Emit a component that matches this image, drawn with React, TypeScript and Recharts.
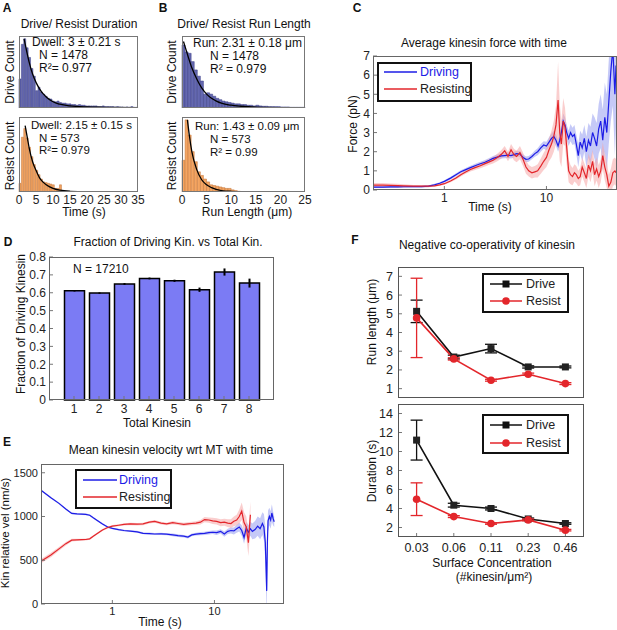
import React from 'react';
import { ComposedChart, Bar, Line, Area, XAxis, YAxis, ErrorBar } from 'recharts';

const FONT = '"Liberation Sans", Arial, Helvetica, sans-serif';
const PAD = 12;

// ---------- A: duration histograms (bar height in % of panel) ----------
const durBin = 0.7; // s
const durDriveCounts = [42, 92, 100, 87, 73, 57, 46, 25, 30, 23, 20, 17, 14, 13, 10, 9, 10, 8, 7, 7, 6, 6, 5, 5, 4, 5, 4, 4, 3, 3, 3, 3, 3, 2, 2, 3, 2, 2, 2, 2, 1.5, 2, 1.5, 1.5, 1, 1.5, 1, 2, 1, 1];
const durResistCounts = [12, 76, 88, 75, 62, 49, 38, 30, 24, 18, 14, 13, 12, 11, 10, 5, 5, 10, 0, 0.5, 0, 0, 0.5, 0, 0, 0, 0.5, 0, 0, 0, 0, 0.5, 0, 0, 0, 0, 0, 0, 0.5, 0, 0, 0, 0, 0, 0, 0, 0, 0, 0, 0];
const durDriveFit = [[1.5, 100], [2, 88], [3, 66], [4, 49], [5, 37], [6, 28], [7, 21], [8, 16], [10, 9], [12, 5.5], [15, 3], [20, 1.5], [25, 1], [35, 0.5]];
const durResistFit = [[1.8, 92], [2.5, 74], [3, 61], [4, 42], [5, 30], [6, 20], [7, 14], [8, 10], [10, 5], [12, 2.5], [15, 1], [20, 0.3], [35, 0]];
const durTicks = [0, 5, 10, 15, 20, 25, 30, 35];

// ---------- B: run length histograms ----------
const runBin = 0.625; // um
const runDriveCounts = [91, 81, 79, 67, 55, 46, 39, 20, 22, 20, 17, 14, 12, 10, 9, 8, 7, 6, 6, 5, 5, 4, 4, 3, 4, 3, 2.5, 2.5, 2, 2, 2, 2, 1.5, 1.5, 1.5, 1, 1, 1, 1, 1];
const runResistCounts = [44, 100, 79, 56, 42, 28, 23, 18, 14, 10, 9, 8, 7, 6, 5, 5, 3, 2, 1, 0.5, 0.5, 0, 0.5, 0, 0.5, 0, 0, 0.5, 0, 0, 0, 0, 0, 0, 0, 0, 0, 0, 0, 0];
const runDriveFit = [[0.3, 96], [1, 80], [2, 58], [3, 42], [4, 29], [5, 20], [6, 14], [7, 10], [8, 7], [10, 4], [12, 2.5], [15, 1.2], [20, 0.5], [25, 0.3]];
const runResistFit = [[1.1, 100], [1.5, 78], [2, 56], [3, 31], [4, 17], [5, 10], [6, 6], [8, 2], [10, 1], [15, 0.3], [25, 0]];
const runTicks = [0, 5, 10, 15, 20, 25];

// ---------- C: force vs time ----------
const cTime = [0.2, 0.25, 0.3, 0.35, 0.4, 0.5, 0.6, 0.7, 0.8, 0.9, 1.0, 1.15, 1.3, 1.45, 1.6, 1.8, 2.0, 2.25, 2.5, 2.75, 3.0, 3.3, 3.6, 3.9, 4.2, 4.5, 4.8, 5.1, 5.5, 5.9, 6.3, 6.7, 7.2, 7.7, 8.2, 8.8, 9.4, 10, 10.6, 11.2, 11.8, 12.4, 13.0, 13.5, 14.0, 14.6, 15.2, 15.8, 16.5, 17.2, 18, 18.8, 19.6, 20.5, 21.4, 22.4, 23.5, 24.6, 25.8, 27, 28.3, 29.6, 31, 32.5, 34, 35.6, 37.3, 39, 40.8, 42.7, 44.7, 46.8, 48];
const cDriving = [0.15, 0.15, 0.16, 0.16, 0.17, 0.18, 0.18, 0.2, 0.27, 0.35, 0.45, 0.62, 0.8, 0.95, 1.05, 1.17, 1.27, 1.37, 1.45, 1.55, 1.65, 1.72, 1.78, 1.8, 1.82, 1.8, 1.85, 1.9, 1.88, 1.7, 1.6, 1.62, 1.75, 1.9, 2.0, 2.2, 2.35, 2.3, 2.5, 2.7, 2.8, 2.6, 2.3, 2.6, 3.0, 3.6, 3.4, 3.0, 2.7, 3.0, 2.8, 2.9, 2.4, 1.8, 2.5, 2.2, 2.7, 2.0, 2.6, 2.3, 3.0, 2.7, 2.3, 3.2, 3.6, 2.6, 3.8, 3.0, 4.6, 6.2, 7.4, 5.0, 6.5];
const cDrivingErr = [0.05, 0.05, 0.05, 0.05, 0.05, 0.05, 0.05, 0.05, 0.05, 0.06, 0.06, 0.07, 0.08, 0.08, 0.09, 0.1, 0.1, 0.1, 0.12, 0.12, 0.13, 0.13, 0.14, 0.14, 0.15, 0.15, 0.15, 0.15, 0.15, 0.15, 0.15, 0.15, 0.15, 0.16, 0.18, 0.2, 0.2, 0.22, 0.25, 0.25, 0.3, 0.3, 0.3, 0.35, 0.35, 0.4, 0.4, 0.4, 0.4, 0.45, 0.45, 0.5, 0.5, 0.6, 0.6, 0.7, 0.7, 0.8, 0.9, 1.0, 1.0, 1.1, 1.2, 1.3, 1.4, 1.6, 1.8, 2.0, 2.2, 2.6, 3.0, 3.2, 3.2];
const cResisting = [0.25, 0.25, 0.24, 0.23, 0.22, 0.2, 0.2, 0.2, 0.22, 0.27, 0.33, 0.47, 0.63, 0.8, 0.93, 1.07, 1.17, 1.27, 1.38, 1.47, 1.55, 1.7, 1.85, 2.05, 1.75, 2.1, 1.85, 1.75, 1.95, 1.6, 1.2, 1.0, 0.9, 0.95, 1.0, 1.25, 1.5, 1.7, 2.1, 2.4, 2.8, 3.4, 4.7, 3.0, 2.4, 3.6, 3.3, 2.2, 1.0, 0.8, 0.7, 0.9, 0.8, 0.6, 0.7, 1.2, 0.9, 0.6, 1.3, 1.0, 1.5, 0.8, 1.1, 0.7, 1.0, 1.8, 1.2, 0.8, 0.2, 0.4, 0.9, 1.0, 0.9];
const cResistingErr = [0.12, 0.12, 0.1, 0.1, 0.08, 0.06, 0.05, 0.05, 0.05, 0.05, 0.06, 0.07, 0.08, 0.09, 0.1, 0.1, 0.12, 0.13, 0.15, 0.15, 0.17, 0.2, 0.22, 0.25, 0.25, 0.3, 0.3, 0.3, 0.35, 0.35, 0.35, 0.3, 0.3, 0.3, 0.35, 0.4, 0.45, 0.5, 0.6, 0.7, 0.8, 1.0, 2.0, 1.5, 1.2, 1.2, 1.0, 0.9, 0.6, 0.5, 0.45, 0.45, 0.45, 0.4, 0.45, 0.5, 0.5, 0.5, 0.6, 0.6, 0.6, 0.6, 0.6, 0.6, 0.6, 0.7, 0.7, 0.7, 0.6, 0.7, 0.7, 0.7, 0.7];

// ---------- D: fraction of driving kinesin ----------
const dTotal = [1, 2, 3, 4, 5, 6, 7, 8];
const dFraction = [0.611, 0.598, 0.649, 0.68, 0.667, 0.617, 0.716, 0.654];
const dFractionErr = [0.004, 0.004, 0.005, 0.005, 0.006, 0.012, 0.02, 0.025];

// ---------- E: velocity vs time ----------
const eTime = [0.2, 0.25, 0.3, 0.35, 0.4, 0.45, 0.5, 0.55, 0.6, 0.65, 0.7, 0.8, 0.9, 1.0, 1.15, 1.3, 1.5, 1.75, 2.0, 2.3, 2.6, 3.0, 3.4, 3.9, 4.4, 5.0, 5.5, 6.0, 6.6, 7.3, 8.0, 8.8, 9.6, 10.5, 11.5, 12.5, 13.5, 14.5, 15.5, 16.5, 17.5, 18.5, 19.5, 20.5, 21.5, 22.5, 23.5, 25, 26.5, 28, 29.5, 30.5, 31.5, 32.5, 33, 33.5, 34.5, 35.5, 36.5, 37.5, 38.5];
const eDriving = [1300, 1215, 1150, 1085, 1035, 1030, 1028, 1025, 1015, 985, 960, 915, 880, 865, 850, 840, 832, 825, 808, 805, 800, 802, 798, 790, 782, 775, 765, 790, 798, 805, 808, 815, 820, 815, 830, 800, 830, 840, 835, 860, 880, 840, 760, 870, 820, 860, 830, 850, 890, 860, 920, 880, 700, 150, 700, 950, 1000, 960, 1040, 980, 940];
const eDrivingErr = [10, 10, 10, 10, 10, 10, 10, 10, 10, 10, 10, 10, 10, 10, 10, 10, 10, 12, 12, 12, 12, 12, 12, 15, 15, 15, 15, 15, 15, 18, 18, 20, 20, 25, 25, 30, 30, 35, 40, 45, 50, 60, 70, 70, 80, 80, 90, 100, 110, 120, 130, 150, 200, 300, 200, 120, 100, 100, 100, 80, 60];
const eResisting = [490, 560, 630, 690, 730, 733, 735, 737, 745, 775, 800, 845, 875, 890, 900, 910, 915, 912, 915, 935, 945, 925, 915, 930, 920, 910, 915, 920, 925, 935, 965, 960, 950, 945, 930, 935, 925, 920, 945, 960, 1000, 1060, 930, 880, 700, 1020];
const eResistingErr = [25, 25, 22, 20, 15, 12, 12, 12, 12, 12, 12, 12, 12, 12, 12, 12, 15, 15, 15, 15, 15, 15, 15, 18, 18, 18, 18, 20, 20, 25, 30, 30, 35, 35, 40, 40, 45, 50, 55, 60, 80, 100, 120, 120, 150, 150];

// ---------- F: negative co-operativity ----------
const fConc = ['0.03', '0.06', '0.11', '0.23', '0.46'];
const fRunDrive = [5.13, 2.69, 3.14, 2.16, 2.16];
const fRunDriveErr = [0.6, 0.1, 0.23, 0.06, 0.05];
const fRunResist = [4.78, 2.59, 1.45, 1.77, 1.27];
const fRunResistErr = [2.12, 0.06, 0.05, 0.06, 0.05];
const fDurDrive = [11.2, 4.35, 4.0, 2.9, 2.42];
const fDurDriveErr = [2.1, 0.2, 0.15, 0.1, 0.08];
const fDurResist = [4.98, 3.15, 2.42, 2.8, 1.72];
const fDurResistErr = [1.72, 0.1, 0.08, 0.1, 0.08];

const BLUE = '#1c1ce6';
const RED = '#e3262b';
const TICK_C = '#777';
const tickStyle = { fontSize: 12, fill: '#222' };

function slot(x0, y0, x1, y1, yw, xh) {
  return {
    style: { position: 'absolute' as const, left: x0 - yw - PAD, top: y0 - PAD },
    width: x1 - x0 + yw + 2 * PAD,
    height: y1 - y0 + xh + 2 * PAD,
    margin: { top: PAD, right: PAD, bottom: PAD, left: PAD },
  };
}

// inward tick marks, matlab style; labels pushed back out via tickMargin
const inX = { tickSize: -4, tickLine: { stroke: TICK_C }, axisLine: false };
const inY = { tickSize: -4, tickLine: { stroke: TICK_C }, axisLine: false };

const Txt = ({ x, y, children, size = 12, rotate = false, anchor = 'middle', color = '#111', bold = false }: any) => {
  const tf = rotate ? 'translate(-50%,-50%) rotate(-90deg)' : anchor === 'start' ? 'translate(0,-50%)' : 'translate(-50%,-50%)';
  return (
    <div style={{ position: 'absolute', left: x, top: y, transform: tf, fontSize: size, fontWeight: bold ? 700 : 400, color, whiteSpace: 'nowrap', lineHeight: 1 }}>
      {children}
    </div>
  );
};

const Frame = ({ x0, y0, x1, y1, color = '#444' }: any) => (
  <div style={{ position: 'absolute', left: x0, top: y0, width: x1 - x0, height: y1 - y0, border: `1px solid ${color}`, boxSizing: 'border-box', pointerEvents: 'none' }} />
);

const LegendBox = ({ left, top, width, height, rows, lx0, lx1, tx }: any) => (
  <div style={{ position: 'absolute', left, top, width, height, border: '2px solid #111', boxSizing: 'border-box', background: '#fff' }}>
    <svg width={width} height={height} style={{ position: 'absolute', left: -2, top: -2 }}>
      {rows.map((r: any) => (
        <g key={r.label}>
          <line x1={lx0} x2={lx1} y1={r.y} y2={r.y} stroke={r.color} strokeWidth={1.5} />
          {r.marker === 'square' && <rect x={(lx0 + lx1) / 2 - 3.5} y={r.y - 3.5} width={7} height={7} fill={r.color} />}
          {r.marker === 'circle' && <circle cx={(lx0 + lx1) / 2} cy={r.y} r={3.8} fill={r.color} />}
          <text x={tx} y={r.y} dominantBaseline="central" fontSize={12.5} fill={r.textColor}>{r.label}</text>
        </g>
      ))}
    </svg>
  </div>
);

function Hist({ x0, y0, x1, y1, counts, bin, xMax, fit, fill, stroke, ticks }: any) {
  const xh = ticks ? 20 : 0;
  const s = slot(x0, y0, x1, y1, 0, xh);
  const data = counts.map((c: number, i: number) => ({ i, x: (i + 0.5) * bin, c }));
  const fitData = fit.map(([x, y]: number[]) => ({ x, y }));
  return (
    <div style={s.style}>
      <ComposedChart width={s.width} height={s.height} margin={s.margin} data={data} barCategoryGap={0} barGap={0}>
        <XAxis xAxisId="bins" dataKey="i" type="category" orientation="top" height={0} hide />
        <XAxis xAxisId="num" dataKey="x" type="number" domain={[0, xMax]} ticks={ticks} hide={!ticks} height={xh} axisLine={false} tickLine={false} tickSize={0} tickMargin={3} tick={tickStyle} interval={0} allowDataOverflow />
        <YAxis hide domain={[0, 104]} allowDataOverflow />
        <Bar xAxisId="bins" dataKey="c" fill={fill} stroke={stroke} strokeWidth={0.5} isAnimationActive={false} />
        <Line xAxisId="num" data={fitData} dataKey="y" type="monotone" stroke="#000" strokeWidth={1.3} dot={false} isAnimationActive={false} />
      </ComposedChart>
    </div>
  );
}

function TimeCourse({ x0, y0, x1, y1, time, drv, drvErr, res, resErr, yMax, yTicks, tickFont = 12 }: any) {
  const s = slot(x0, y0, x1, y1, 34, 20);
  const data = time.map((t: number, i: number) => ({
    t,
    drv: drv[i],
    res: res[i] ?? null,
    drvBand: [drv[i] - drvErr[i], drv[i] + drvErr[i]],
    resBand: res[i] == null ? null : [res[i] - resErr[i], res[i] + resErr[i]],
  }));
  const tk = { ...tickStyle, fontSize: tickFont };
  return (
    <div style={s.style}>
      <ComposedChart width={s.width} height={s.height} margin={s.margin} data={data}>
        <XAxis dataKey="t" type="number" scale="log" domain={[0.2, 48]} ticks={[1, 10]} allowDataOverflow height={20} {...inX} tickMargin={7} tick={tk} />
        <YAxis type="number" domain={[0, yMax]} ticks={yTicks} allowDataOverflow width={34} {...inY} tickMargin={7} tick={tk} interval={0} />
        <Area dataKey="drvBand" type="linear" stroke="none" fill="#9ea5f2" fillOpacity={0.6} isAnimationActive={false} dot={false} activeDot={false} />
        <Area dataKey="resBand" type="linear" stroke="none" fill="#f5a5a5" fillOpacity={0.55} isAnimationActive={false} dot={false} activeDot={false} />
        <Line dataKey="drv" type="linear" stroke={BLUE} strokeWidth={1.2} dot={false} isAnimationActive={false} />
        <Line dataKey="res" type="linear" stroke={RED} strokeWidth={1.2} dot={false} isAnimationActive={false} />
      </ComposedChart>
    </div>
  );
}

const squareDot = (p: any) => <rect key={`sq-${p.index}`} x={p.cx - 3.5} y={p.cy - 3.5} width={7} height={7} fill="#222" />;
const circleDot = (p: any) => <circle key={`ci-${p.index}`} cx={p.cx} cy={p.cy} r={3.8} fill={RED} />;

function FPanel({ x0, y0, x1, y1, drive, driveErr, resist, resistErr, yDomain, yTicks, showX }: any) {
  const xh = showX ? 22 : 0;
  const s = slot(x0, y0, x1, y1, 34, xh);
  const data = fConc.map((c, i) => ({ i, drive: drive[i], driveErr: driveErr[i], resist: resist[i], resistErr: resistErr[i] }));
  const tk = { ...tickStyle, fontSize: 12.5 };
  return (
    <div style={s.style}>
      <ComposedChart width={s.width} height={s.height} margin={s.margin} data={data}>
        <XAxis dataKey="i" type="number" domain={[-0.5, 4.5]} ticks={[0, 1, 2, 3, 4]} tickFormatter={(v: number) => fConc[v]} height={xh} {...inX} tickMargin={10} tick={showX ? tk : false} interval={0} />
        <YAxis type="number" domain={yDomain} ticks={yTicks} allowDataOverflow width={34} {...inY} tickMargin={9} tick={tk} interval={0} />
        <Line dataKey="drive" type="linear" stroke="#111" strokeWidth={1.6} dot={squareDot} isAnimationActive={false}>
          <ErrorBar dataKey="driveErr" direction="y" width={6} stroke="#111" strokeWidth={1.3} />
        </Line>
        <Line dataKey="resist" type="linear" stroke={RED} strokeWidth={1.6} dot={circleDot} isAnimationActive={false}>
          <ErrorBar dataKey="resistErr" direction="y" width={6} stroke={RED} strokeWidth={1.3} />
        </Line>
      </ComposedChart>
    </div>
  );
}

function DPanel() {
  const x0 = 49, y0 = 257, x1 = 274, y1 = 400;
  const s = slot(x0, y0, x1, y1, 34, 20);
  const data = dTotal.map((n, i) => ({ n, frac: dFraction[i], err: dFractionErr[i] }));
  return (
    <div style={s.style}>
      <ComposedChart width={s.width} height={s.height} margin={s.margin} data={data}>
        <XAxis dataKey="n" type="number" domain={[0, 9]} ticks={dTotal} height={20} {...inX} tickMargin={8} tick={tickStyle} interval={0} />
        <YAxis type="number" domain={[0, 0.8]} ticks={[0, 0.1, 0.2, 0.3, 0.4, 0.5, 0.6, 0.7, 0.8]} tickFormatter={(v: number) => (v === 0 ? '0' : v.toFixed(1))} width={34} {...inY} tickMargin={7} tick={tickStyle} interval={0} />
        <Bar dataKey="frac" fill="#7b7bf4" stroke="#000" strokeWidth={1.5} barSize={20} isAnimationActive={false}>
          <ErrorBar dataKey="err" direction="y" width={0} stroke="#000" strokeWidth={2} />
        </Bar>
      </ComposedChart>
    </div>
  );
}

export default function App() {
  return (
    <div style={{ position: 'fixed', left: 0, top: 0, width: 617, height: 630, background: '#fff', fontFamily: FONT, overflow: 'hidden', color: '#111' }}>
      {/* A */}
      <Hist x0={19} y0={36} x1={138} y1={108} counts={durDriveCounts} bin={durBin} xMax={35} fit={durDriveFit} fill="#6468b0" stroke="#3a3d85" />
      <Hist x0={19} y0={117} x1={138} y1={192} counts={durResistCounts} bin={durBin} xMax={35} fit={durResistFit} fill="#f4a562" stroke="#c0753a" ticks={durTicks} />
      {/* B */}
      <Hist x0={182} y0={36} x1={305} y1={108} counts={runDriveCounts} bin={runBin} xMax={25} fit={runDriveFit} fill="#6468b0" stroke="#3a3d85" />
      <Hist x0={182} y0={117} x1={305} y1={192} counts={runResistCounts} bin={runBin} xMax={25} fit={runResistFit} fill="#f4a562" stroke="#c0753a" ticks={runTicks} />
      {/* C */}
      <TimeCourse x0={373} y0={56} x1={616} y1={190} time={cTime} drv={cDriving} drvErr={cDrivingErr} res={cResisting} resErr={cResistingErr} yMax={7} yTicks={[0, 1, 2, 3, 4, 5, 6, 7]} />
      {/* D */}
      <DPanel />
      {/* E */}
      <TimeCourse x0={41} y0={464} x1={284} y1={604} time={eTime} drv={eDriving} drvErr={eDrivingErr} res={eResisting} resErr={eResistingErr} yMax={1600} yTicks={[0, 500, 1000, 1500]} tickFont={11} />
      {/* F */}
      <FPanel x0={398} y0={267} x1={584} y1={398} drive={fRunDrive} driveErr={fRunDriveErr} resist={fRunResist} resistErr={fRunResistErr} yDomain={[0.5, 7.5]} yTicks={[1, 2, 3, 4, 5, 6, 7]} />
      <FPanel x0={398} y0={404} x1={584} y1={537} drive={fDurDrive} driveErr={fDurDriveErr} resist={fDurResist} resistErr={fDurResistErr} yDomain={[1, 15]} yTicks={[2, 4, 6, 8, 10, 12, 14]} showX />

      <Frame x0={19} y0={36} x1={138} y1={108} color="#777" />
      <Frame x0={19} y0={117} x1={138} y1={192} color="#777" />
      <Frame x0={182} y0={36} x1={305} y1={108} color="#777" />
      <Frame x0={182} y0={117} x1={305} y1={192} color="#777" />
      <Frame x0={373} y0={56} x1={617} y1={190} color="#666" />
      <Frame x0={49} y0={257} x1={274} y1={400} color="#666" />
      <Frame x0={41} y0={464} x1={284} y1={604} color="#666" />
      <Frame x0={398} y0={267} x1={584} y1={398} color="#555" />
      <Frame x0={398} y0={404} x1={584} y1={537} color="#555" />

      {/* legends */}
      <LegendBox left={377} top={62} width={95} height={40} lx0={7} lx1={40} tx={43}
        rows={[{ label: 'Driving', y: 10, color: BLUE, textColor: BLUE }, { label: 'Resisting', y: 27, color: RED, textColor: '#222' }]} />
      <LegendBox left={75} top={469} width={97} height={40} lx0={8} lx1={42} tx={44}
        rows={[{ label: 'Driving', y: 11, color: BLUE, textColor: BLUE }, { label: 'Resisting', y: 28, color: RED, textColor: '#222' }]} />
      <LegendBox left={482} top={273} width={87} height={40} lx0={8} lx1={40} tx={44}
        rows={[{ label: 'Drive', y: 11, color: '#111', textColor: '#222', marker: 'square' }, { label: 'Resist', y: 28, color: RED, textColor: '#222', marker: 'circle' }]} />
      <LegendBox left={482} top={414} width={87} height={40} lx0={8} lx1={40} tx={44}
        rows={[{ label: 'Drive', y: 11, color: '#111', textColor: '#222', marker: 'square' }, { label: 'Resist', y: 29, color: RED, textColor: '#222', marker: 'circle' }]} />

      {/* panel letters */}
      <Txt x={7} y={8} bold size={12}>A</Txt>
      <Txt x={163} y={8} bold size={12}>B</Txt>
      <Txt x={357} y={8} bold size={12}>C</Txt>
      <Txt x={8} y={242} bold size={12}>D</Txt>
      <Txt x={7} y={442} bold size={12}>E</Txt>
      <Txt x={355} y={240} bold size={12}>F</Txt>

      {/* titles */}
      <Txt x={79} y={24}>Drive/ Resist Duration</Txt>
      <Txt x={244} y={24}>Drive/ Resist Run Length</Txt>
      <Txt x={484} y={43}>Average kinesin force with time</Txt>
      <Txt x={168} y={242}>Fraction of Driving Kin. vs Total Kin.</Txt>
      <Txt x={171} y={450}>Mean kinesin velocity wrt MT with time</Txt>
      <Txt x={487} y={245}>Negative co-operativity of kinesin</Txt>

      {/* axis labels */}
      <Txt x={10} y={72} rotate>Drive Count</Txt>
      <Txt x={10} y={156} rotate>Resist Count</Txt>
      <Txt x={172} y={72} rotate>Drive Count</Txt>
      <Txt x={172} y={156} rotate>Resist Count</Txt>
      <Txt x={84} y={212}>Time (s)</Txt>
      <Txt x={247} y={212}>Run Length (μm)</Txt>
      <Txt x={353} y={124} rotate>Force (pN)</Txt>
      <Txt x={490} y={207}>Time (s)</Txt>
      <Txt x={21} y={324} rotate>Fraction of Driving Kinesin</Txt>
      <Txt x={157} y={423}>Total Kinesin</Txt>
      <Txt x={6} y={533} rotate size={11.5}>Kin relative vel (nm/s)</Txt>
      <Txt x={160} y={622}>Time (s)</Txt>
      <Txt x={372} y={322} rotate>Run length (μm)</Txt>
      <Txt x={372} y={471} rotate>Duration (s)</Txt>
      <Txt x={492} y={563}>Surface Concentration</Txt>
      <Txt x={494} y={577}>(#kinesin/μm²)</Txt>

      {/* annotations */}
      <Txt x={32} y={42} anchor="start">Dwell: 3 ± 0.21 s</Txt>
      <Txt x={39} y={55} anchor="start">N = 1478</Txt>
      <Txt x={39} y={68} anchor="start">R²= 0.977</Txt>
      <Txt x={31} y={126} anchor="start" size={11.5}>Dwell: 2.15 ± 0.15 s</Txt>
      <Txt x={39} y={138.5} anchor="start" size={11.5}>N = 573</Txt>
      <Txt x={39} y={151} anchor="start" size={11.5}>R²= 0.979</Txt>
      <Txt x={193} y={43} anchor="start">Run: 2.31 ± 0.18 μm</Txt>
      <Txt x={210} y={56} anchor="start">N = 1478</Txt>
      <Txt x={210} y={69} anchor="start">R² = 0.979</Txt>
      <Txt x={195} y={127} anchor="start" size={11.5}>Run: 1.43 ± 0.09 μm</Txt>
      <Txt x={210} y={140} anchor="start" size={11.5}>N = 573</Txt>
      <Txt x={210} y={153} anchor="start" size={11.5}>R² = 0.99</Txt>
      <Txt x={73} y={269} anchor="start">N = 17210</Txt>
    </div>
  );
}
